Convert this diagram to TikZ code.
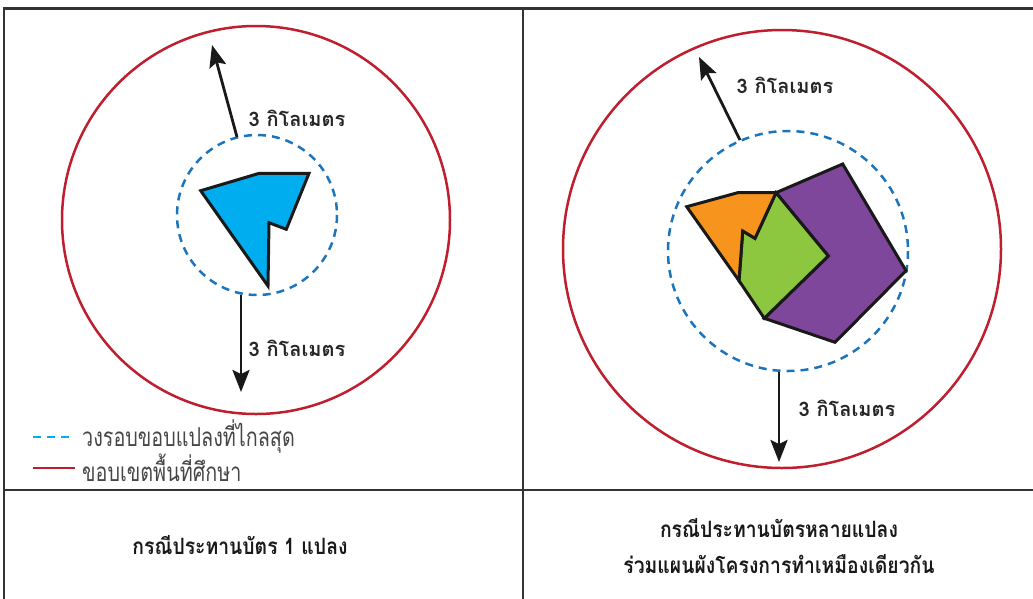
\documentclass[tikz,border=0pt]{standalone}
\usepackage{fontspec}
\newfontfamily\thaifont[Script=Thai]{Loma}
\newfontfamily\thainarrow[Script=Thai, FakeStretch=0.76]{Loma}
\newfontfamily\thaicaption[Script=Thai, FakeStretch=0.86]{Loma}
\usepackage{xcolor}
\usetikzlibrary{arrows.meta,positioning}
\definecolor{zoneRed}{RGB}{190,30,45}
\definecolor{ringBlue}{RGB}{28,117,188}
\definecolor{legendCyan}{RGB}{0,174,239}
\definecolor{plotBlue}{RGB}{0,174,239}
\definecolor{plotOrange}{RGB}{247,148,29}
\definecolor{plotGreen}{RGB}{141,198,63}
\definecolor{plotPurple}{RGB}{127,71,155}
\definecolor{legendGray}{RGB}{70,70,70}
\tikzset{
  frameLine/.style={draw=black!80, line width=2.8pt},
  zoneCircle/.style={draw=zoneRed, line width=2.5pt},
  ringCircle/.style={draw=ringBlue, line width=2.5pt, dash pattern=on 8pt off 6pt},
  plotShape/.style={draw=black!90, line width=3pt, line join=miter},
  kmArrow/.style={draw=black!90, line width=2.8pt, -{Stealth[length=22pt,width=17pt,inset=4pt]}},
  kmLabel/.style={font=\thaifont\bfseries\fontsize{20}{24}\selectfont, text=black!85, inner sep=0pt},
  legendText/.style={font=\thainarrow\fontsize{26}{30}\selectfont, text=legendGray, anchor=west, inner sep=0pt},
  caseText/.style={font=\thaicaption\bfseries\fontsize{22.5}{26}\selectfont, text=black!90, align=center, inner sep=0pt}
}
\begin{document}
\begin{tikzpicture}[x=1pt, y=-1pt]
  \useasboundingbox (0,0) rectangle (1033,598);
  % table frame
  \draw[frameLine] (1040,8.5) -- (4,8.5) -- (4,605);
  \draw[frameLine] (523,8.5) -- (523,605);
  \draw[frameLine] (4,490) -- (1040,490);

  % left case: one plot
  \draw[zoneCircle] (256,220) circle[radius=194];
  \draw[ringCircle] (257,215) circle[radius=80];
  \filldraw[plotShape, fill=plotBlue] (200.7,190.7) -- (259.3,173.3) -- (309,173.3)
    -- (286.3,229.3) -- (269,222.7) -- (268,286) -- cycle;
  \coordinate (upBaseL) at (237,137);
  \coordinate (upTipL) at (212,45);
  \coordinate (downBaseL) at (241,295);
  \coordinate (downTipL) at (241,392);
  \draw[kmArrow] (upBaseL) -- (upTipL);
  \draw[kmArrow] (downBaseL) -- (downTipL);
  \node[kmLabel] (kmUpL) at (297,118) {3 กิโลเมตร};
  \node[kmLabel] (kmDownL) at (297,348) {3 กิโลเมตร};

  % legend
  \coordinate (dashA) at (33,437);
  \coordinate (dashB) at (74,437);
  \coordinate (solidA) at (33,468);
  \coordinate (solidB) at (75,468);
  \draw[draw=legendCyan, line width=2.5pt, dash pattern=on 8pt off 6pt] (dashA) -- (dashB);
  \draw[draw=zoneRed, line width=2.5pt] (solidA) -- (solidB);
  \node[legendText] (ringNote) at (82,437) {วงรอบขอบแปลงที่ไกลสุด};
  \node[legendText] (zoneNote) at (82,468) {ขอบเขตพื้นที่ศึกษา};

  % right case: several plots
  \draw[zoneCircle] (782,249) circle[radius=219];
  \draw[ringCircle] (788,251) circle[radius=120];
  \filldraw[plotShape, fill=plotPurple] (776,192.7) -- (842.7,164) -- (906,270.7)
    -- (835,342.3) -- (764.3,318.3) -- (828.3,256) -- cycle;
  \filldraw[plotShape, fill=plotGreen] (776,192.7) -- (828.3,256) -- (764.3,318.3)
    -- (739,280.7) -- (742.7,231) -- (755,238.3) -- cycle;
  \filldraw[plotShape, fill=plotOrange] (686.7,206.7) -- (737.7,192.7) -- (776,192.7)
    -- (755,238.3) -- (742.7,231) -- (739,280.7) -- cycle;
  \coordinate (upBaseR) at (740,140);
  \coordinate (upTipR) at (699,57);
  \coordinate (downBaseR) at (779,372);
  \coordinate (downTipR) at (779,462);
  \draw[kmArrow] (upBaseR) -- (upTipR);
  \draw[kmArrow] (downBaseR) -- (downTipR);
  \node[kmLabel] (kmUpR) at (785,85) {3 กิโลเมตร};
  \node[kmLabel] (kmDownR) at (847,408) {3 กิโลเมตร};

  % case captions
  \node[caseText] (caseOne) at (240,545) {กรณีประทานบัตร 1 แปลง};
  \node[caseText] (caseMany) at (779,546) {กรณีประทานบัตรหลายแปลง\\[10pt]ร่วมแผนผังโครงการทำเหมืองเดียวกัน};
\end{tikzpicture}
\end{document}
